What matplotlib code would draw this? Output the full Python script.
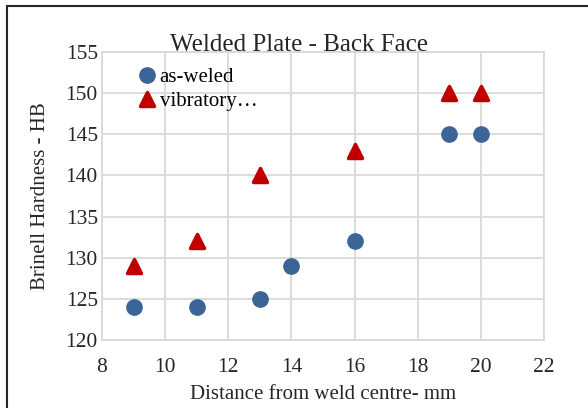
import matplotlib.pyplot as plt
from matplotlib.markers import MarkerStyle
from matplotlib.patches import Rectangle

plt.rcParams['font.family'] = ['Liberation Serif', 'DejaVu Serif']

# hardness readings, back face of the welded plate
dist_as_welded = [9, 11, 13, 14, 16, 19, 20]
hb_as_welded = [124, 124, 125, 129, 132, 145, 145]
dist_vibratory = [9, 11, 13, 16, 19, 20]
hb_vibratory = [129, 132, 140, 143, 150, 150]

x_ticks = [8, 10, 12, 14, 16, 18, 20, 22]
y_ticks = [120, 125, 130, 135, 140, 145, 150, 155]

fig = plt.figure(figsize=(5.88, 4.08), dpi=100)
ax = fig.add_axes([0.1735, 0.1667, 0.7515, 0.7058])

grid_col = '#d9d9d9'
txt_col = '#262626'
ax.grid(True, color=grid_col, linewidth=1.3)
ax.set_axisbelow(True)
for s in ax.spines.values():
    s.set_color(grid_col)
    s.set_linewidth(1.3)

tri = MarkerStyle('^', joinstyle='round')
ax.plot(dist_as_welded, hb_as_welded, 'o', color='#3a6596', markersize=11,
        linestyle='none', label='as-weled')
ax.plot(dist_vibratory, hb_vibratory, marker=tri, color='#c00000', markersize=9.5,
        markeredgewidth=2.5, markeredgecolor='#c00000', linestyle='none',
        label='vibratory…')

ax.set_xlim(8, 22)
ax.set_ylim(120, 155)
ax.set_xticks(x_ticks)
ax.set_yticks(y_ticks)
ax.tick_params(length=0, labelsize=15.5, colors=txt_col)
ax.tick_params(axis='y', pad=3)
ax.tick_params(axis='x', pad=13)
ax.set_xlabel('Distance from weld centre- mm', fontsize=15, color=txt_col, labelpad=6)
ax.set_ylabel('Brinell Hardness - HB', fontsize=15, color=txt_col, labelpad=11)
# title sits slightly over the plot area, left of centre
ax.set_title('Welded Plate - Back Face', fontsize=18, color=txt_col, x=0.445, y=1.005, pad=0)

ax.legend(loc='upper left', bbox_to_anchor=(0.055, 0.975), frameon=False, fontsize=15,
          handletextpad=0.0, handlelength=1.2, borderaxespad=0, labelspacing=0.2)

# outer chart border (only top and left visible)
fig.patches.append(Rectangle((7 / 588, -0.1), 1.1, 1.1 - 6 / 408, transform=fig.transFigure,
                             fill=False, edgecolor=txt_col, linewidth=1.5))

fig.savefig('out.png', dpi=100)
